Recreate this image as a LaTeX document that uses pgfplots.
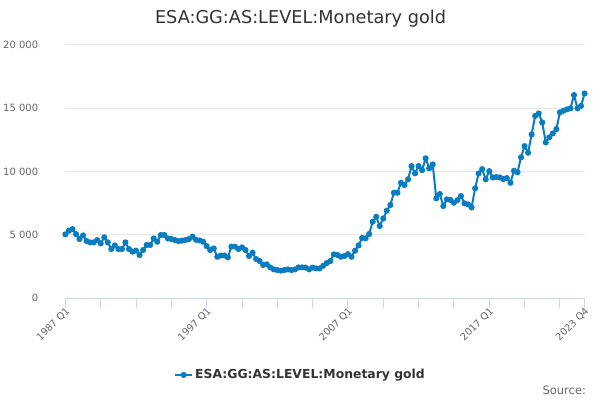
\documentclass[border=0pt]{standalone}
\usepackage{fontspec}
\setmainfont{DejaVu Sans}
\usepackage{pgfplots}
\pgfplotsset{compat=1.18}
\usepackage{pgfplotstable}
\definecolor{series}{RGB}{10,124,192}
\definecolor{axisc}{HTML}{CCD6EB}
\definecolor{gridc}{HTML}{E6E6E6}
\definecolor{labc}{HTML}{666666}
\definecolor{titc}{HTML}{333333}
\pgfplotstableread{
x y
0 5030
1 5320
2 5450
3 5050
4 4660
5 4950
6 4500
7 4400
8 4400
9 4580
10 4320
11 4800
12 4400
13 3870
14 4160
15 3870
16 3870
17 4400
18 3870
19 3660
20 3740
21 3400
22 3790
23 4190
24 4190
25 4710
26 4450
27 4980
28 4980
29 4710
30 4660
31 4580
32 4500
33 4530
34 4580
35 4660
36 4850
37 4600
38 4550
39 4450
40 4100
41 3790
42 3920
43 3260
44 3360
45 3360
46 3210
47 4060
48 4060
49 3870
50 4000
51 3790
52 3320
53 3580
54 3080
55 2920
56 2610
57 2660
58 2420
59 2260
60 2210
61 2160
62 2210
63 2260
64 2210
65 2260
66 2420
67 2420
68 2400
69 2260
70 2400
71 2340
72 2340
73 2550
74 2760
75 2920
76 3450
77 3400
78 3260
79 3320
80 3470
81 3260
82 3740
83 4160
84 4750
85 4720
86 5060
87 6030
88 6420
89 5690
90 6290
91 6900
92 7350
93 8320
94 8320
95 9110
96 8930
97 9380
98 10430
99 9850
100 10430
101 10110
102 11040
103 10250
104 10560
105 7880
106 8220
107 7270
108 7800
109 7750
110 7530
111 7740
112 8060
113 7480
114 7400
115 7160
116 8670
117 9850
118 10190
119 9380
120 10030
121 9530
122 9560
123 9530
124 9400
125 9480
126 9110
127 10060
128 9930
129 11120
130 12010
131 11480
132 12930
133 14400
134 14590
135 13880
136 12300
137 12700
138 13010
139 13350
140 14670
141 14800
142 14910
143 14990
144 16040
145 14990
146 15190
147 16170
}\golddata
\begin{document}
\begin{tikzpicture}
\path[use as bounding box] (0,0) rectangle (600bp,400bp);
\begin{axis}[
  at={(65.4bp,102bp)}, anchor=south west,
  scale only axis, width=519.2bp, height=253bp,
  xmin=0, xmax=147, ymin=0, ymax=20000,
  axis x line*=bottom, axis y line*=left,
  y axis line style={draw=none},
  x axis line style={axisc, line width=1bp},
  xtick={0,40,80,120,147},
  xticklabels={1987 Q1,1997 Q1,2007 Q1,2017 Q1,2023 Q4},
  minor xtick={10,20,30,50,60,70,90,100,110,130,140},
  tick align=outside,
  major tick length=10bp,
  minor tick length=10bp,
  xtick style={axisc, line width=1bp},
  minor x tick style={axisc, line width=1bp},
  ytick={0,5000,10000,15000,20000},
  ytick style={draw=none},
  scaled y ticks=false,
  ymajorgrids, grid style={gridc, line width=1bp},
  /pgf/number format/1000 sep={\ },
  /pgf/number format/assume math mode=true,
  yticklabel style={font=\fontsize{10bp}{12bp}\selectfont, text=labc, anchor=east, inner sep=0pt, xshift=-17bp},
  xticklabel style={font=\fontsize{9.8bp}{12bp}\selectfont, text=labc, rotate=45, anchor=east, inner sep=1bp, xshift=2bp, yshift=-3bp},
  title={ESA:GG:AS:LEVEL:Monetary gold},
  title style={at={(0.4528,1)}, anchor=center, yshift=20.5bp, font=\fontsize{17.7bp}{20bp}\selectfont, text=titc},
  legend style={at={(0.4528,-0.3043)}, anchor=center, draw=none, fill=none, font=\fontsize{12.4bp}{14bp}\selectfont\bfseries, text=titc},
  legend cell align=left,
]
\addplot[series, line width=2bp, mark=*, mark size=2bp, mark options={draw=none, fill=series}] table[x=x, y=y] {\golddata};
\addlegendentry{ESA:GG:AS:LEVEL:Monetary gold}
\end{axis}
\node[anchor=base east, font=\fontsize{11.5bp}{13bp}\selectfont, text=labc] at (589.5bp,5.5bp) {Source:};
\end{tikzpicture}
\end{document}
